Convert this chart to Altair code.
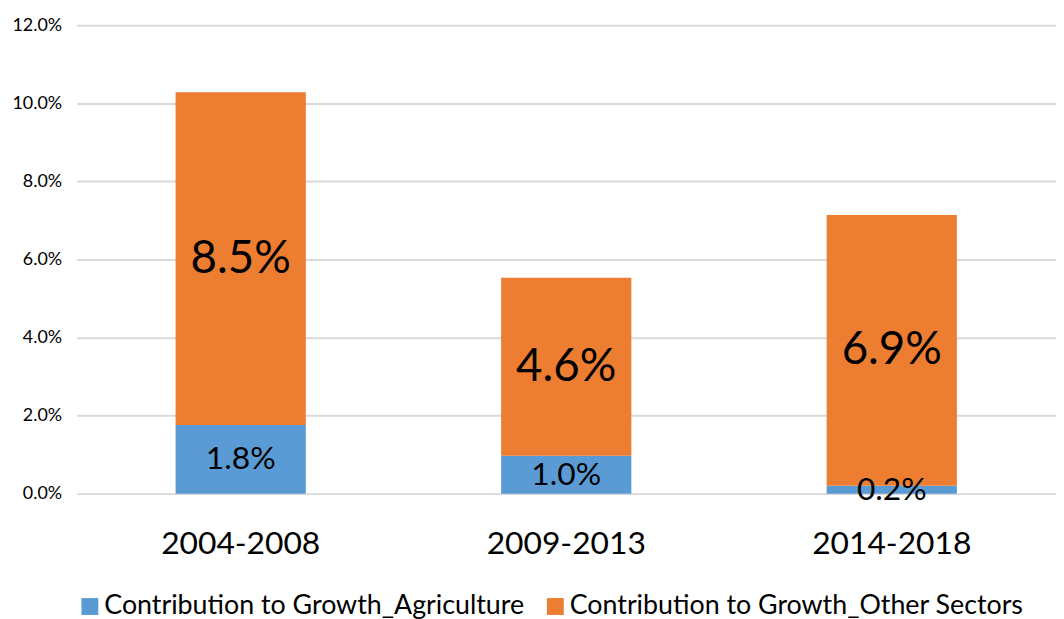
import altair as alt
import pandas as pd

periods = ["2004-2008", "2009-2013", "2014-2018"]
agriculture = [1.76, 0.97, 0.20]
other = [8.52, 4.56, 6.94]
series = ["Contribution to Growth_Agriculture", "Contribution to Growth_Other Sectors"]
colors = ["#5B9BD5", "#ED7D31"]
yticks = [0.0, 0.02, 0.04, 0.06, 0.08, 0.10, 0.12]

rows = []
for p, a, o in zip(periods, agriculture, other):
    rows.append(dict(period=p, series=series[0], value=a / 100, order=0,
                     mid=a / 200, label=f"{a:.1f}%"))
    rows.append(dict(period=p, series=series[1], value=o / 100, order=1,
                     mid=(a + o / 2) / 100, label=f"{o:.1f}%"))
df = pd.DataFrame(rows)

FONT = "Lato"

xenc = alt.X("period:N", sort=periods, title=None,
             scale=alt.Scale(paddingInner=0.6, paddingOuter=0.3045),
             axis=alt.Axis(labelAngle=0, labelFontSize=32, labelPadding=35,
                           labelColor="#000000", domain=False, ticks=False,
                           labelFont=FONT))

bars = alt.Chart(df).mark_bar().encode(
    x=xenc,
    y=alt.Y("value:Q", stack="zero", title=None,
            scale=alt.Scale(domain=[0, 0.12], nice=False),
            axis=alt.Axis(values=yticks, format=".1%", labelFontSize=18,
                          labelPadding=15, labelColor="#000000", labelFont=FONT,
                          domain=False, ticks=False, grid=True,
                          gridColor="#D9D9D9", gridWidth=2)),
    color=alt.Color("series:N", sort=series,
                    scale=alt.Scale(domain=series, range=colors),
                    legend=alt.Legend(title=None, orient="none", direction="horizontal",
                                      legendX=0, legendY=572, symbolType="square",
                                      symbolSize=289, symbolStrokeWidth=0,
                                      labelFontSize=27, labelFont=FONT, labelLimit=0,
                                      labelOffset=1,
                                      labelColor="#000000", columnPadding=17,
                                      symbolOpacity=1)),
    order=alt.Order("order:Q"),
)

txt_agri = alt.Chart(df).transform_filter(alt.datum.order == 0).mark_text(
    fontSize=32, font=FONT, color="#000000", baseline="middle"
).encode(x=alt.X("period:N", sort=periods), y="mid:Q", text="label:N")

txt_other = alt.Chart(df).transform_filter(alt.datum.order == 1).mark_text(
    fontSize=46, font=FONT, color="#000000", baseline="middle"
).encode(x=alt.X("period:N", sort=periods), y="mid:Q", text="label:N")

chart = alt.layer(bars, txt_agri, txt_other).properties(
    width=987, height=472,
    autosize=alt.AutoSizeParams(type="none"),
    padding={"left": 69, "top": 15, "right": 0, "bottom": 124},
).configure_view(stroke=None)

chart.save("out.html", embed_options={"renderer": "svg", "actions": False})
